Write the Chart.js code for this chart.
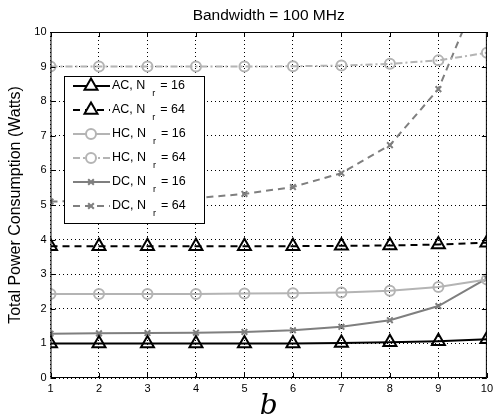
<!DOCTYPE html>
<html lang="en">
<head>
<meta charset="UTF-8">
<title>Total Power Consumption</title>
<script src="https://cdn.jsdelivr.net/npm/chart.js"></script>
<style>
  body { margin: 0; background: #fff; }
</style>
</head>
<body>
<canvas id="powerChart" width="497" height="417"></canvas>
<script>
// values
const bits = [1, 2, 3, 4, 5, 6, 7, 8, 9, 10];
const ac16 = [1.0, 1.0, 1.0, 1.0, 1.0, 1.0, 1.01, 1.03, 1.06, 1.12];
const ac64 = [3.81, 3.81, 3.81, 3.81, 3.81, 3.81, 3.82, 3.83, 3.86, 3.91];
const hc16 = [2.43, 2.43, 2.43, 2.43, 2.44, 2.45, 2.47, 2.52, 2.63, 2.85];
const hc64 = [9.0, 9.0, 9.0, 9.0, 9.0, 9.01, 9.03, 9.08, 9.18, 9.4];
const dc16 = [1.28, 1.29, 1.3, 1.31, 1.33, 1.38, 1.48, 1.67, 2.08, 2.88];
const dc64 = [5.1, 5.12, 5.15, 5.2, 5.32, 5.52, 5.92, 6.73, 8.35, 11.7];
const yTicks = [0, 1, 2, 3, 4, 5, 6, 7, 8, 9, 10];

const black = '#000000';
const light = '#b4b4b4';
const dark = '#7f7f7f';
const sans = '"Liberation Sans", Arial, sans-serif';

function series(label, data, color, dash, style, radius) {
    return {
        label: label,
        data: data,
        borderColor: color,
        borderWidth: 2,
        borderDash: dash,
        pointStyle: style,
        pointRadius: radius,
        pointBorderColor: color,
        pointBackgroundColor: style === 'crossRot' ? color : 'rgba(255,255,255,0)',
        pointBorderWidth: 2,
        fill: false,
        tension: 0
    };
}

const datasets = [
    series('AC', ac16, black, [], 'triangle', 7.5),
    series('AC', ac64, black, [7, 5], 'triangle', 7.5),
    series('HC', hc16, light, [], 'circle', 5),
    series('HC', hc64, light, [7, 3, 2, 3], 'circle', 5),
    series('DC', dc16, dark, [], 'crossRot', 4),
    series('DC', dc64, dark, [7, 5], 'crossRot', 4)
];
const nr = ['16', '64', '16', '64', '16', '64'];

// frame, inward ticks, title and legend box
const decor = {
    id: 'decor',
    afterDraw(chart) {
        const c = chart.ctx, a = chart.chartArea;
        const xs = chart.scales.x, ys = chart.scales.y;
        c.save();
        c.strokeStyle = black;
        c.lineWidth = 1;
        c.setLineDash([]);
        c.strokeRect(a.left + 0.5, a.top + 0.5, a.right - a.left - 1, a.bottom - a.top - 1);
        c.beginPath();
        bits.forEach(v => {
            const px = Math.round(xs.getPixelForValue(v)) + 0.5;
            c.moveTo(px, a.bottom); c.lineTo(px, a.bottom - 5);
            c.moveTo(px, a.top); c.lineTo(px, a.top + 5);
        });
        yTicks.forEach(v => {
            const py = Math.round(ys.getPixelForValue(v)) + 0.5;
            c.moveTo(a.left, py); c.lineTo(a.left + 5, py);
            c.moveTo(a.right, py); c.lineTo(a.right - 5, py);
        });
        c.stroke();

        c.fillStyle = black;
        c.font = '15.5px ' + sans;
        c.textAlign = 'center';
        c.textBaseline = 'middle';
        c.fillText('Bandwidth = 100 MHz', (a.left + a.right) / 2, 16);

        // legend
        const bx = 64, by = 76, bw = 140, bh = 147;
        c.fillStyle = '#ffffff';
        c.fillRect(bx, by, bw, bh);
        c.strokeRect(bx + 0.5, by + 0.5, bw, bh);
        datasets.forEach((d, i) => {
            const y = by + 10 + i * 24;
            c.strokeStyle = d.borderColor;
            c.lineWidth = 2;
            c.setLineDash(d.borderDash);
            c.beginPath();
            c.moveTo(bx + 9, y); c.lineTo(bx + 46, y);
            c.stroke();
            c.setLineDash([]);
            c.fillStyle = '#ffffff';
            Chart.helpers.drawPoint(c, {
                pointStyle: d.pointStyle, radius: d.pointRadius,
                borderWidth: 2, rotation: 0
            }, bx + 27, y);
            c.fillStyle = black;
            c.font = '12.5px ' + sans;
            c.textAlign = 'left';
            c.textBaseline = 'middle';
            const t1 = d.label + ', N';
            c.fillText(t1, bx + 48, y);
            let x = bx + 48 + c.measureText(t1).width + 7;
            c.font = '9px ' + sans;
            c.fillText('r', x, y + 8);
            x += 8;
            c.font = '12.5px ' + sans;
            c.fillText('= ' + nr[i], x, y);
        });
        c.restore();
    }
};

const ctx = document.getElementById('powerChart').getContext('2d');
const chart = new Chart(ctx, {
    type: 'line',
    data: { labels: bits, datasets: datasets },
    options: {
        responsive: false,
        animation: false,
        layout: { padding: { top: 32, right: 6, left: 0, bottom: 0 } },
        plugins: {
            legend: { display: false },
            tooltip: { enabled: false }
        },
        scales: {
            x: {
                type: 'linear',
                min: 1,
                max: 10,
                afterFit(scale) { scale.height = 39; },
                afterBuildTicks(scale) { scale.ticks = bits.map(v => ({ value: v })); },
                ticks: {
                    color: black,
                    font: { size: 11, family: sans },
                    padding: 4
                },
                grid: {
                    color: black,
                    lineWidth: 1,
                    drawTicks: false
                },
                border: { display: false, dash: [1, 3] },
                title: {
                    display: true,
                    text: 'b',
                    color: black,
                    font: { size: 28, style: 'italic', family: '"DejaVu Serif", "Liberation Serif", serif' },
                    padding: { top: 0, bottom: -7 }
                }
            },
            y: {
                min: 0,
                max: 10,
                afterFit(scale) { scale.width = 50.5; },
                afterBuildTicks(scale) { scale.ticks = yTicks.map(v => ({ value: v })); },
                ticks: {
                    color: black,
                    font: { size: 11, family: sans },
                    padding: 4
                },
                grid: {
                    color: black,
                    lineWidth: 1,
                    drawTicks: false
                },
                border: { display: false, dash: [1, 3] },
                title: {
                    display: true,
                    text: 'Total Power Consumption (Watts)',
                    color: black,
                    font: { size: 16, family: sans },
                    padding: { top: 6, bottom: 0 }
                }
            }
        }
    },
    plugins: [decor]
});
</script>
</body>
</html>
